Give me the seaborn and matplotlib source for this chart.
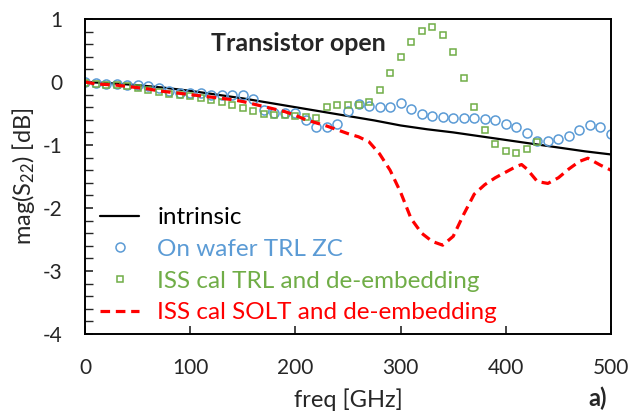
import numpy as np
import pandas as pd
import matplotlib
matplotlib.use("Agg")
import matplotlib.pyplot as plt
import seaborn as sns

# ---- data ----
freq_intr = [0, 25, 50, 75, 100, 125, 150, 175, 200, 225, 250, 275, 300,
             325, 350, 375, 400, 425, 450, 475, 500]
intrinsic = [0.0, -0.02, -0.05, -0.09, -0.14, -0.20, -0.26, -0.33, -0.40,
             -0.47, -0.54, -0.61, -0.69, -0.75, -0.80, -0.86, -0.92, -0.98,
             -1.04, -1.10, -1.15]

freq_blue = list(range(0, 501, 10))
onwafer = [0.0, -0.02, -0.03, -0.03, -0.04, -0.05, -0.07, -0.10, -0.14, -0.17,
           -0.18, -0.18, -0.20, -0.20, -0.20, -0.21, -0.27, -0.44, -0.49, -0.49,
           -0.49, -0.61, -0.71, -0.71, -0.67, -0.46, -0.35, -0.38, -0.40, -0.40,
           -0.34, -0.43, -0.50, -0.54, -0.56, -0.57, -0.57, -0.57, -0.58, -0.61,
           -0.66, -0.72, -0.81, -0.94, -0.94, -0.91, -0.85, -0.76, -0.69, -0.71,
           -0.82]

freq_green = list(range(0, 431, 10))
iss_trl = [-0.02, -0.03, -0.04, -0.05, -0.07, -0.09, -0.13, -0.16, -0.19, -0.20,
           -0.22, -0.25, -0.28, -0.32, -0.36, -0.41, -0.46, -0.50, -0.52, -0.53,
           -0.54, -0.56, -0.57, -0.39, -0.37, -0.37, -0.37, -0.32, -0.12, 0.14,
           0.40, 0.64, 0.81, 0.87, 0.75, 0.47, 0.06, -0.39, -0.76, -0.98,
           -1.10, -1.12, -1.06, -0.96]

freq_red = [0, 10, 20, 30, 40, 50, 60, 70, 80, 90, 100, 110, 120, 130, 140, 150,
            160, 170, 180, 190, 200, 210, 220, 230, 240, 250, 260, 270, 280, 290,
            300, 310, 320, 330, 340, 350, 360, 370, 380, 390, 400, 410, 415, 420,
            430, 440, 450, 460, 470, 478, 490, 500]
iss_solt = [0.0, -0.03, -0.04, -0.05, -0.07, -0.09, -0.11, -0.14, -0.16, -0.18,
            -0.20, -0.22, -0.24, -0.26, -0.28, -0.31, -0.35, -0.39, -0.43, -0.47,
            -0.53, -0.60, -0.65, -0.70, -0.76, -0.82, -0.87, -0.95, -1.14, -1.40,
            -1.75, -2.17, -2.40, -2.53, -2.59, -2.45, -2.10, -1.78, -1.63, -1.52,
            -1.43, -1.34, -1.31, -1.38, -1.58, -1.61, -1.52, -1.38, -1.26, -1.21,
            -1.32, -1.40]

labels = ["intrinsic", "On wafer TRL ZC", "ISS cal TRL and de-embedding",
          "ISS cal SOLT and de-embedding"]
colors = ["#000000", "#5B9BD5", "#70AD47", "#FF0000"]

sns.set_style("white")
plt.rcParams['font.family'] = ['Lato', 'DejaVu Sans']
plt.rcParams['mathtext.fontset'] = 'custom'
plt.rcParams['mathtext.rm'] = 'Lato'
plt.rcParams['mathtext.it'] = 'Lato'
plt.rcParams['axes.unicode_minus'] = False

fig = plt.figure(figsize=(6.31, 4.12), dpi=100)
ax = fig.add_axes([85/631, 1-334/412, 526/631, 315/412])

df_i = pd.DataFrame({"freq": freq_intr, "val": intrinsic})
df_b = pd.DataFrame({"freq": freq_blue, "val": onwafer})
df_g = pd.DataFrame({"freq": freq_green, "val": iss_trl})
df_r = pd.DataFrame({"freq": freq_red, "val": iss_solt})

sns.lineplot(data=df_i, x="freq", y="val", ax=ax, color=colors[0], lw=1.6,
             label=labels[0])
sns.lineplot(data=df_b, x="freq", y="val", ax=ax, color=colors[1], linestyle="none",
             marker="o", markersize=6.5, markerfacecolor="none",
             markeredgecolor=colors[1], markeredgewidth=1.1, label=labels[1])
sns.lineplot(data=df_g, x="freq", y="val", ax=ax, color=colors[2], linestyle="none",
             marker="s", markersize=3.8, markerfacecolor="none",
             markeredgecolor=colors[2], markeredgewidth=1.1, label=labels[2])
sns.lineplot(data=df_r, x="freq", y="val", ax=ax, color=colors[3], lw=2.3,
             dashes=False, label=labels[3])
ax.lines[-1].set_dashes((3.0, 1.8))

ax.set_xlim(0, 500)
ax.set_ylim(-4, 1)
ax.set_xticks([0, 100, 200, 300, 400, 500])
ax.set_yticks([-4, -3, -2, -1, 0, 1])
ax.set_yticks(np.arange(-4, 1.01, 0.2), minor=True)
ax.tick_params(axis='x', which='major', direction='in', length=6, width=1.2,
               pad=17, labelsize=15, bottom=True, top=False)
ax.tick_params(axis='y', which='major', direction='in', length=6, width=1.2,
               pad=16, labelsize=15, left=True, right=False)
ax.tick_params(axis='y', which='minor', direction='in', length=6, width=1.0,
               left=True, right=False)
for s in ax.spines.values():
    s.set_color('black')
    s.set_linewidth(1.4)

ax.set_xlabel("freq [GHz]", fontsize=17, labelpad=8)
ax.set_ylabel("mag(S$_{22}$) [dB]", fontsize=17, labelpad=4)

ax.text(0.405, 0.921, "Transistor open", transform=ax.transAxes, ha='center',
        va='center', fontsize=18, fontweight='bold')
fig.text(598/631, 1-398/412, "a)", ha='center', va='center', fontsize=17,
         fontweight='bold')

leg = ax.legend(loc='upper left', bbox_to_anchor=(0.02, 0.418), frameon=False,
                fontsize=17.5, handlelength=1.6, handletextpad=0.75,
                labelspacing=0.44, numpoints=1, borderaxespad=0, borderpad=0.2)
for txt, c in zip(leg.get_texts(), colors):
    txt.set_color(c)

fig.savefig("out.png", dpi=100)
